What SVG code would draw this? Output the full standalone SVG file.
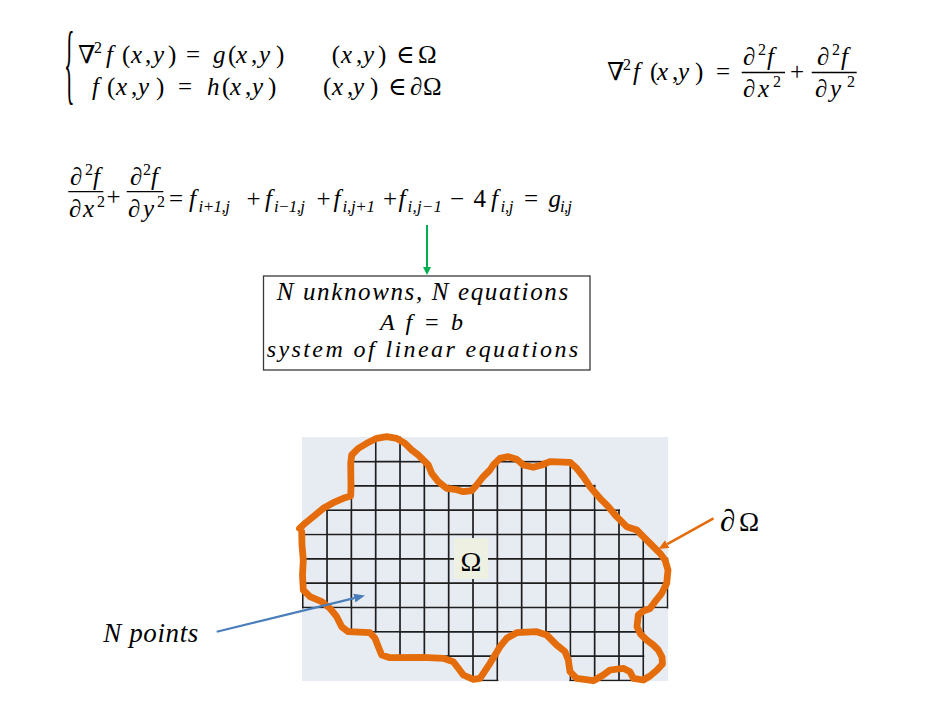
<svg xmlns="http://www.w3.org/2000/svg" width="931" height="706" viewBox="0 0 931 706">
<defs>
<style>
.m{font-family:"Liberation Serif","DejaVu Serif",serif;font-size:25px;fill:#000}
.i{font-style:italic}
.sup{font-size:16px;font-style:normal}
.sub{font-size:17px;font-style:italic}
.bar{stroke:#000;stroke-width:1.3}
.gridl{fill:none;stroke:#1e1e1e;stroke-width:1.7}
.bnd{fill:none;stroke:#E46C0A;stroke-width:6.8;stroke-linejoin:round;stroke-linecap:round}
.box{fill:#fff;stroke:#3a3a3a;stroke-width:1.3}
</style>
<marker id="ahG" viewBox="0 0 10 10" refX="0" refY="5" markerWidth="8" markerHeight="8" markerUnits="userSpaceOnUse" orient="auto"><path d="M0,0 L10,5 L0,10 z" fill="#00B050"/></marker>
<marker id="ahO" viewBox="0 0 10 10" refX="0" refY="5" markerWidth="10" markerHeight="9" markerUnits="userSpaceOnUse" orient="auto" preserveAspectRatio="none"><path d="M0,0 L10,5 L0,10 z" fill="#E46C0A"/></marker>
<marker id="ahB" viewBox="0 0 10 10" refX="0" refY="5" markerWidth="11" markerHeight="9" markerUnits="userSpaceOnUse" orient="auto" preserveAspectRatio="none"><path d="M0,0 L10,5 L0,10 z" fill="#4A7EBB"/></marker>
<clipPath id="gclip">
<rect x="71.99" y="-1" width="26.33" height="26.33"/>
<rect x="47.66" y="23.33" width="74.99" height="26.33"/>
<rect x="193.64" y="23.33" width="74.99" height="26.33"/>
<rect x="47.66" y="47.66" width="245.3" height="26.33"/>
<rect x="23.33" y="71.99" width="293.96" height="26.33"/>
<rect x="-1" y="96.32" width="342.62" height="26.33"/>
<rect x="-1" y="120.65" width="366.95" height="26.33"/>
<rect x="-1" y="144.98" width="366.95" height="26.33"/>
<rect x="47.66" y="169.31" width="293.96" height="26.33"/>
<rect x="96.32" y="193.64" width="99.32" height="26.33"/>
<rect x="266.63" y="193.64" width="74.99" height="26.33"/>
<rect x="169.31" y="217.97" width="26.33" height="26.33"/>
<rect x="266.63" y="217.97" width="74.99" height="26.33"/>
</clipPath>
</defs>

<g id="eq-system">
<text class="m" transform="translate(64,92.5) scale(0.25,1)" style="font-size:88px">{</text>
<text class="m" y="63"><tspan x="78">∇</tspan><tspan x="94" y="53" class="sup">2</tspan><tspan x="106" y="63" class="i">f</tspan><tspan x="122">(</tspan><tspan x="131" class="i">x</tspan><tspan x="145">,</tspan><tspan x="153" class="i">y</tspan><tspan x="168">)</tspan></text>
<text class="m" x="186" y="63">=</text>
<text class="m" y="63"><tspan x="213" class="i">g</tspan><tspan x="228">(</tspan><tspan x="236" class="i">x</tspan><tspan x="251">,</tspan><tspan x="259" class="i">y</tspan><tspan x="276">)</tspan></text>
<text class="m" y="63"><tspan x="331.7">(</tspan><tspan x="341" class="i">x</tspan><tspan x="356">,</tspan><tspan x="363" class="i">y</tspan><tspan x="378">)</tspan><tspan x="396">∈</tspan><tspan x="418">Ω</tspan></text>
<text class="m" y="95"><tspan x="92" class="i">f</tspan><tspan x="107">(</tspan><tspan x="116" class="i">x</tspan><tspan x="131">,</tspan><tspan x="138" class="i">y</tspan><tspan x="156">)</tspan></text>
<text class="m" x="178" y="95">=</text>
<text class="m" y="95"><tspan x="207" class="i">h</tspan><tspan x="222">(</tspan><tspan x="230" class="i">x</tspan><tspan x="245">,</tspan><tspan x="252" class="i">y</tspan><tspan x="268">)</tspan></text>
<text class="m" y="95"><tspan x="323">(</tspan><tspan x="332" class="i">x</tspan><tspan x="347">,</tspan><tspan x="353" class="i">y</tspan><tspan x="370">)</tspan><tspan x="388">∈</tspan><tspan x="410">∂</tspan><tspan x="423">Ω</tspan></text>
</g>

<g id="eq-laplacian">
<text class="m" y="80"><tspan x="607">∇</tspan><tspan x="623" y="70" class="sup">2</tspan><tspan x="633" y="80" class="i">f</tspan><tspan x="650">(</tspan><tspan x="657" class="i">x</tspan><tspan x="672">,</tspan><tspan x="678" class="i">y</tspan><tspan x="695">)</tspan></text>
<text class="m" x="716" y="80">=</text>
<line class="bar" x1="741.7" y1="72.5" x2="785" y2="72.5"/>
<text class="m" y="65"><tspan x="743">∂</tspan><tspan x="758" y="55" class="sup">2</tspan><tspan x="767" y="65" class="i">f</tspan></text>
<text class="m" y="97"><tspan x="743">∂</tspan><tspan x="758" class="i">x</tspan><tspan x="773" y="87" class="sup">2</tspan></text>
<text class="m" x="790" y="80">+</text>
<line class="bar" x1="811.7" y1="72.5" x2="856.7" y2="72.5"/>
<text class="m" y="65"><tspan x="817">∂</tspan><tspan x="832" y="55" class="sup">2</tspan><tspan x="841" y="65" class="i">f</tspan></text>
<text class="m" y="97"><tspan x="815">∂</tspan><tspan x="830" class="i">y</tspan><tspan x="847" y="87" class="sup">2</tspan></text>
</g>

<g id="eq-discrete">
<line class="bar" x1="68.3" y1="191.7" x2="103.3" y2="191.7"/>
<text class="m" y="185"><tspan x="70">∂</tspan><tspan x="85" y="175" class="sup">2</tspan><tspan x="93" y="185" class="i">f</tspan></text>
<text class="m" y="217"><tspan x="69">∂</tspan><tspan x="83" class="i">x</tspan><tspan x="97" y="207" class="sup">2</tspan></text>
<text class="m" x="106.5" y="205">+</text>
<line class="bar" x1="126.7" y1="191.7" x2="163.3" y2="191.7"/>
<text class="m" y="185"><tspan x="130">∂</tspan><tspan x="143" y="175" class="sup">2</tspan><tspan x="151" y="185" class="i">f</tspan></text>
<text class="m" y="217"><tspan x="128">∂</tspan><tspan x="143" class="i">y</tspan><tspan x="157" y="207" class="sup">2</tspan></text>
<text class="m" x="169" y="207">=</text>
<text class="m i" x="189" y="207">f</text><text class="m sub" x="198.5" y="212" textLength="31.5">i+1,j</text>
<text class="m" x="246.5" y="207">+</text>
<text class="m i" x="265" y="207">f</text><text class="m sub" x="274" y="212" textLength="31">i−1,j</text>
<text class="m" x="316.5" y="207">+</text>
<text class="m i" x="333.5" y="207">f</text><text class="m sub" x="342.5" y="212" textLength="32.5">i,j+1</text>
<text class="m" x="383" y="207">+</text>
<text class="m i" x="398.5" y="207">f</text><text class="m sub" x="407.5" y="212" textLength="34.5">i,j−1</text>
<text class="m" x="450" y="207">−</text>
<text class="m" x="473.5" y="207">4</text>
<text class="m i" x="491" y="207">f</text><text class="m sub" x="500.5" y="212" textLength="13">i,j</text>
<text class="m" x="524" y="207">=</text>
<text class="m i" x="548.5" y="207">g</text><text class="m sub" x="560" y="212" textLength="12">i,j</text>
</g>

<g id="box-linear">
<rect class="box" x="263.5" y="276" width="326.5" height="94"/>
<text class="m i" x="276.7" y="300" style="font-size:25px" textLength="291.5">N unknowns, N equations</text>
<text class="m i" x="380" y="330" style="font-size:24px" textLength="83">A f = b</text>
<text class="m i" x="266.7" y="357" style="font-size:24px" textLength="311.5">system of linear equations</text>
</g>

<g id="domain">
<rect x="302" y="437" width="366" height="244" fill="#E7EBF2"/>
<g transform="translate(302.7,437.2)">
<g clip-path="url(#gclip)">
<path class="gridl" d="M0,0V243.3M24.33,0V243.3M48.66,0V243.3M72.99,0V243.3M97.32,0V243.3M121.65,0V243.3M145.98,0V243.3M170.31,0V243.3M194.64,0V243.3M218.97,0V243.3M243.3,0V243.3M267.63,0V243.3M291.96,0V243.3M316.29,0V243.3M340.62,0V243.3M364.95,0V243.3M0,0H364.95M0,24.33H364.95M0,48.66H364.95M0,72.99H364.95M0,97.32H364.95M0,121.65H364.95M0,145.98H364.95M0,170.31H364.95M0,194.64H364.95M0,218.97H364.95M0,243.3H364.95"/>
</g>
</g>
<rect x="454" y="538" width="34" height="41" fill="#EEF1E2"/>
<text class="m" x="471" y="571" text-anchor="middle" style="font-size:28px">Ω</text>
<path class="bnd" d="M299.5,528.5 L305,523.3 L313.3,516.7 L323.3,508.3 L333.3,502.7 L343.3,498.3 L350.7,496 L351,486.7 L350.7,463.3 L351.7,455 L358.3,448.3 L366.7,443.3 L376.7,438.3 L386.7,436.7 L396.7,438.3 L405,443.3 L411.7,450 L418.3,455 L423.3,460 L428.3,465 L431.7,473.3 L438.3,481.7 L446.7,488.3 L455,489.3 L463.3,491.7 L471.7,490.7 L476.7,485 L483.3,476.7 L490,470 L493.3,465 L500,458.3 L508.3,456.7 L516.7,459.3 L523.3,465 L533.3,467.3 L541.7,465 L550,461.7 L570,462.3 L576.7,468.3 L583.3,476.7 L590,486.7 L600,498.3 L608.3,506.7 L616.7,516.7 L626.7,526.7 L636.7,530 L643.3,536.7 L651.7,545 L660,553.3 L665,560 L668,570 L666.7,583.3 L661.7,593.3 L655,601.7 L650,608.5 L643.3,611 L638.3,615 L637,626.7 L640.5,634 L646.7,640 L653.3,645 L658.3,650 L662,657 L662.5,664 L657,670 L650,676 L643.3,680 L633.3,678.3 L630,671.7 L623.3,668.3 L610,670 L603.3,675 L593.3,680.7 L576.7,678.3 L570,671.7 L568.3,660 L565,651.7 L556.7,645 L546.7,635 L536.7,631.7 L516.7,632.7 L506.7,638.3 L500,646.7 L490,663.3 L480,678.3 L473.3,679.3 L463.3,675 L458.3,668.3 L453.3,661.7 L443.3,658.3 L423.3,657.3 L390,657.7 L381.7,655 L378.3,646.7 L375,638.3 L370,632.7 L348.3,631.7 L341.7,626.7 L336.7,616.7 L330,608.3 L321.7,601.7 L310,596.7 L303.3,590 L302.5,575 L303.3,560 L302,545 L301.7,532"/>
</g>

<g id="label-boundary">
<text class="m" y="531"><tspan x="720" style="font-size:31px">∂</tspan><tspan x="739" style="font-size:27px">Ω</tspan></text>
</g>

<g id="label-npoints">
<text class="m i" x="103.3" y="641.7" style="font-size:27px" textLength="95">N points</text>
</g>

<g id="connectors">
<line x1="427" y1="225" x2="427" y2="267" stroke="#00B050" stroke-width="2" marker-end="url(#ahG)"/>
<line x1="713.5" y1="518.3" x2="667.2" y2="544.1" stroke="#E46C0A" stroke-width="2.5" marker-end="url(#ahO)"/>
<line x1="216.7" y1="631.7" x2="354.3" y2="598.1" stroke="#4A7EBB" stroke-width="2.2" marker-end="url(#ahB)"/>
</g>
</svg>
